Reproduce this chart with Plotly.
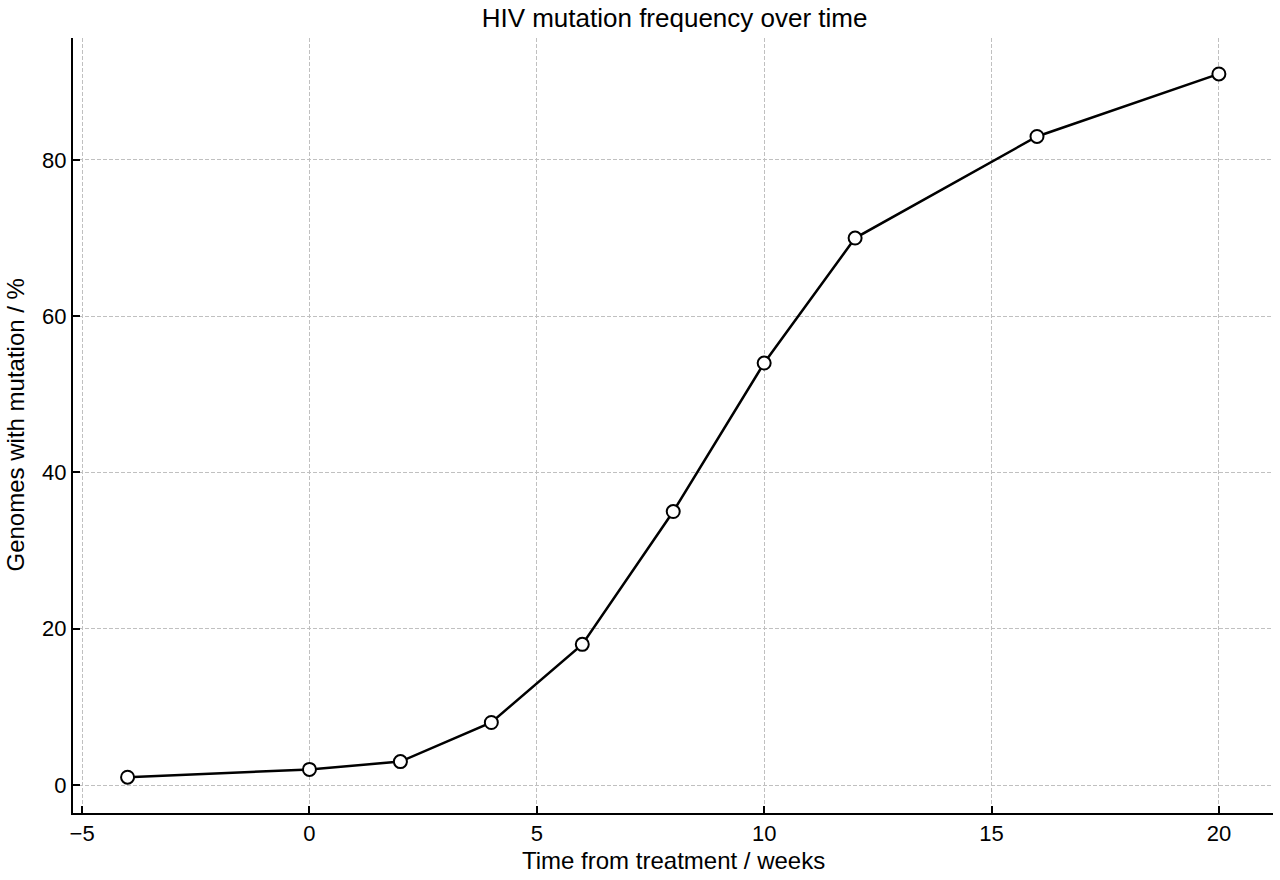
import plotly.graph_objects as go

# weeks from start of treatment, and % of genomes carrying the mutation
weeks = [-4, 0, 2, 4, 6, 8, 10, 12, 16, 20]
pct_mutated = [1, 2, 3, 8, 18, 35, 54, 70, 83, 91]

x_ticks = [-5, 0, 5, 10, 15, 20]
x_labels = ['\u22125', '0', '5', '10', '15', '20']
y_ticks = [0, 20, 40, 60, 80]

fig = go.Figure()
fig.add_trace(go.Scatter(
    x=weeks, y=pct_mutated,
    mode='lines+markers',
    line=dict(color='black', width=2.5),
    marker=dict(size=13, color='white', line=dict(color='black', width=2)),
    showlegend=False,
))

axis_common = dict(
    showline=True, linecolor='black', linewidth=2,
    ticks='inside', ticklen=7, tickwidth=2, tickcolor='black',
    showgrid=True, gridcolor='#c0c0c0', gridwidth=1, griddash='4px,2px',
    zeroline=False, mirror=False, automargin=False,
    tickfont=dict(size=22, color='black'),
)

fig.update_xaxes(axis_common, range=[-5.2, 21.19],
                 tickvals=x_ticks, ticktext=x_labels)
fig.update_yaxes(axis_common, range=[-3.58, 95.6], tickvals=y_ticks)

# axis titles as annotations so they sit exactly where the reference has them
fig.add_annotation(text='Time from treatment / weeks',
                   xref='paper', yref='paper', x=0.5, y=0,
                   xanchor='center', yanchor='middle', yshift=-47,
                   showarrow=False, font=dict(size=24, color='black'))
fig.add_annotation(text='Genomes with mutation / %', textangle=-90,
                   xref='paper', yref='paper', x=0, y=0.5,
                   xanchor='center', yanchor='middle', xshift=-58,
                   showarrow=False, font=dict(size=24, color='black'))

fig.update_layout(
    width=1280, height=880,
    margin=dict(l=73, r=7, t=38, b=67),
    plot_bgcolor='white', paper_bgcolor='white',
    font=dict(family='Liberation Sans, Arial, sans-serif', color='black'),
    title=dict(text='HIV mutation frequency over time', x=0.527, xanchor='center',
               y=0.9795, yanchor='middle', font=dict(size=26, color='black')),
)

# drop the default 8px page margin so the figure fills the window
fig.write_html('out.html', config={'displayModeBar': False},
               post_script="document.body.style.margin='0';")
